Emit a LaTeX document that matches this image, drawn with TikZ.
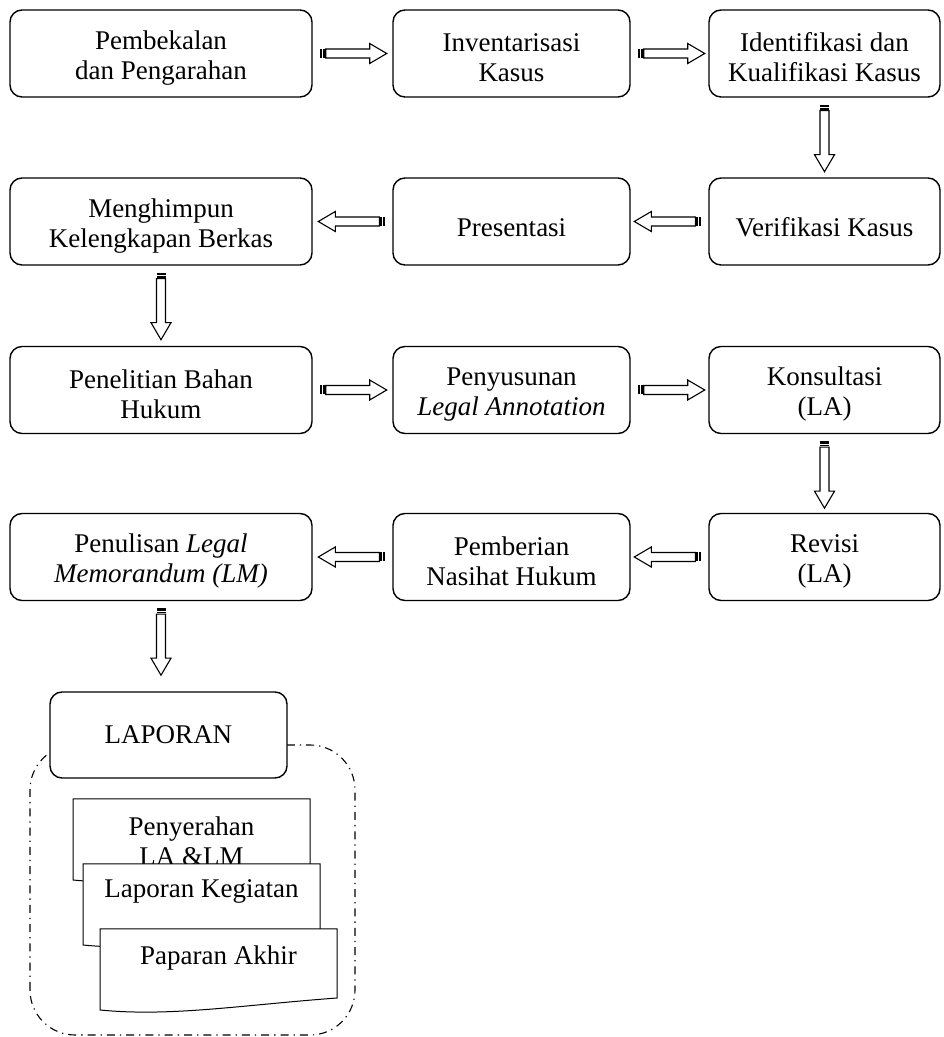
\documentclass[tikz,border=0pt]{standalone}
\usepackage{fontspec}
\setmainfont{Liberation Serif}
\usetikzlibrary{positioning,calc}

\tikzset{
  stepbox/.style={draw, rounded corners=12, line width=1.4, minimum height=87,
    inner sep=2, align=center, font=\fontsize{27}{30}\selectfont},
  oneline/.style={text height=31},
  twoline/.style={text height=57},
  docbox/.style={draw, line width=1, fill=white},
  doctext/.style={inner sep=0, align=center, font=\fontsize{27}{30}\selectfont},
  groupframe/.style={line width=1.1, rounded corners=45,
    dash pattern=on 8 off 5 on 1.3 off 5},
}

% striped hollow arrow, tail near #1, pointing towards #2
\newcommand{\blockarrow}[2]{%
  \path let \p1=(#1), \p2=(#2) in
    \pgfextra{\pgfmathsetmacro\tmpang{atan2(\y2-\y1,\x2-\x1)}\xdef\arrang{\tmpang}};
  \begin{scope}[shift={(#1)}, rotate=\arrang, line width=1.1]
    \fill (7,-4.5) rectangle (9.5,4.5);
    \fill (10.5,-4.5) rectangle (12.2,4.5);
    \draw (13,-4.5) -- (57,-4.5) -- (57,-10) -- (74,0) -- (57,10) -- (57,4.5)
      -- (13,4.5) -- cycle;
  \end{scope}}

\begin{document}
\begin{tikzpicture}[x=1pt, y=1pt]
  \useasboundingbox (0,0) rectangle (944,1037);

  % row 1
  \node[stepbox, twoline, minimum width=302] (pembekalan) at (161,983.5) {Pembekalan\\dan Pengarahan};
  \node[stepbox, twoline, minimum width=237] (inventaris) at (511.5,983.5) {Inventarisasi\\Kasus};
  \node[stepbox, twoline, minimum width=231] (identifikasi) at (824.5,983.5) {Identifikasi dan\\Kualifikasi Kasus};
  % row 2
  \node[stepbox, twoline, minimum width=302] (menghimpun) at (161,815.5) {Menghimpun\\Kelengkapan Berkas};
  \node[stepbox, oneline, minimum width=237] (presentasi) at (511.5,815.5) {Presentasi};
  \node[stepbox, oneline, minimum width=231] (verifikasi) at (824.5,815.5) {Verifikasi Kasus};
  % row 3
  \node[stepbox, twoline, minimum width=302] (penelitian) at (161,647) {Penelitian Bahan\\Hukum};
  \node[stepbox, twoline, minimum width=237] (penyusunan) at (511.5,647) {Penyusunan\\\textit{Legal Annotation}};
  \node[stepbox, twoline, minimum width=231] (konsultasi) at (824.5,647) {Konsultasi\\(LA)};
  % row 4
  \node[stepbox, twoline, minimum width=302] (penulisan) at (161,480) {Penulisan \textit{Legal}\\\textit{Memorandum (LM)}};
  \node[stepbox, twoline, minimum width=237] (pemberian) at (511.5,480) {Pemberian\\Nasihat Hukum};
  \node[stepbox, twoline, minimum width=231] (revisi) at (824.5,480) {Revisi\\(LA)};

  % laporan group
  \draw[groupframe] (30,2) rectangle (355,292);
  \node[stepbox, minimum width=237, minimum height=86, fill=white] (laporan) at (168.5,302) {LAPORAN};

  \begin{scope}[shift={(73,238)}]
    \draw[docbox] (0,0) -- (237,0) -- (237,-69) .. controls (142,-76) and (71,-88) .. (0,-81) -- cycle;
    \node[doctext] (penyerahan) at (118.5,-42) {Penyerahan\\LA \&LM};
  \end{scope}
  \begin{scope}[shift={(83,173)}]
    \draw[docbox] (0,0) -- (237,0) -- (237,-69) .. controls (142,-76) and (71,-88) .. (0,-81) -- cycle;
    \node[doctext, anchor=base] (kegiatan) at (118.5,-34) {Laporan Kegiatan};
  \end{scope}
  \begin{scope}[shift={(100,108)}]
    \draw[docbox] (0,0) -- (237,0) -- (237,-69) .. controls (142,-76) and (71,-88) .. (0,-81) -- cycle;
    \node[doctext, anchor=base] (paparan) at (118.5,-36) {Paparan Akhir};
  \end{scope}

  % arrows
  \blockarrow{pembekalan.east}{inventaris.west}
  \blockarrow{inventaris.east}{identifikasi.west}
  \blockarrow{identifikasi.south}{verifikasi.north}
  \blockarrow{verifikasi.west}{presentasi.east}
  \blockarrow{presentasi.west}{menghimpun.east}
  \blockarrow{menghimpun.south}{penelitian.north}
  \blockarrow{penelitian.east}{penyusunan.west}
  \blockarrow{penyusunan.east}{konsultasi.west}
  \blockarrow{konsultasi.south}{revisi.north}
  \blockarrow{revisi.west}{pemberian.east}
  \blockarrow{pemberian.west}{penulisan.east}
  \blockarrow{penulisan.south}{penulisan.south |- laporan.north}
\end{tikzpicture}
\end{document}
